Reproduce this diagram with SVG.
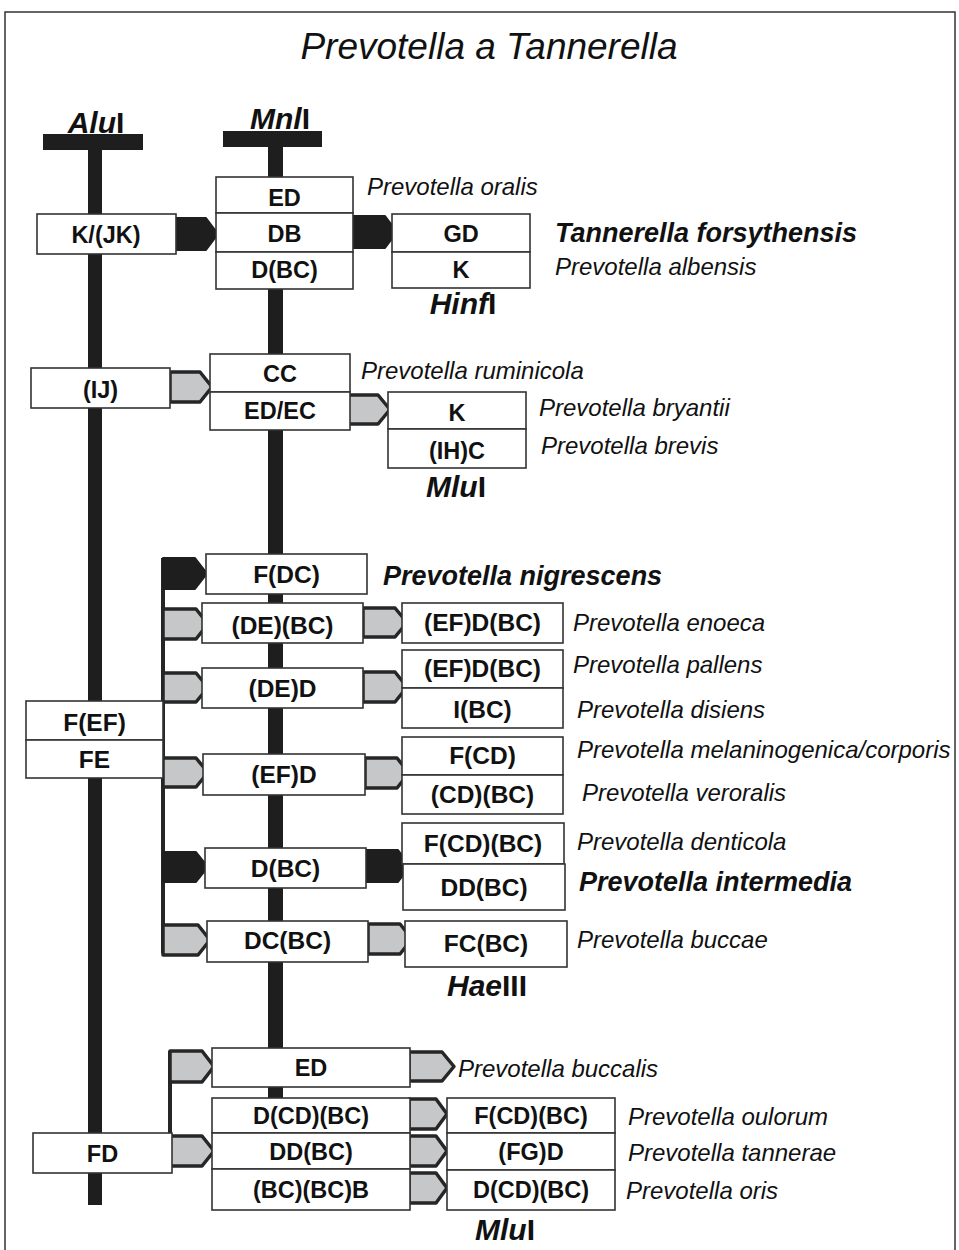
<svg xmlns="http://www.w3.org/2000/svg" width="959" height="1250" viewBox="0 0 959 1250">
<style>
.bx{fill:#fff;stroke:#333;stroke-width:1.6}
.bt{font-family:"Liberation Sans",Arial,sans-serif;font-weight:bold;font-size:23.5px;text-anchor:middle;fill:#111}
#group-hae .bt{font-size:24.5px}
.sp{font-family:"Liberation Sans",Arial,sans-serif;font-style:italic;font-size:24px;fill:#111}
.spb{font-family:"Liberation Sans",Arial,sans-serif;font-style:italic;font-weight:bold;font-size:27px;fill:#111}
.en{font-family:"Liberation Sans",Arial,sans-serif;font-weight:bold;font-size:30px;text-anchor:middle;fill:#111}
.en tspan.i{font-style:italic}
.ga{fill:#c6c7c9;stroke:#262626;stroke-width:3.5;stroke-linejoin:round}
.ba{fill:#1e1e1e;stroke:#1e1e1e;stroke-width:2;stroke-linejoin:round}
.bar{fill:#1e1e1e}
.ln{fill:none;stroke:#262626;stroke-width:4}
</style>
<rect x="5" y="12" width="950" height="1260" fill="none" stroke="#333" stroke-width="1.5"/>
<text x="489" y="59" font-family="'Liberation Sans',Arial,sans-serif" font-style="italic" font-size="37" text-anchor="middle" fill="#111">Prevotella a Tannerella</text>

<g id="axes">
<rect class="bar" x="43" y="134" width="100" height="16"/>
<rect class="bar" x="88" y="150" width="14" height="1055"/>
<rect class="bar" x="223" y="131" width="99" height="16"/>
<rect class="bar" x="268" y="147" width="15" height="953"/>
<text class="en" x="96" y="133"><tspan class="i">Alu</tspan>I</text>
<text class="en" x="280" y="129"><tspan class="i">Mnl</tspan>I</text>
<text class="en" x="463" y="314"><tspan class="i">Hinf</tspan>I</text>
<text class="en" x="456" y="497"><tspan class="i">Mlu</tspan>I</text>
<text class="en" x="487" y="996"><tspan class="i">Hae</tspan>III</text>
<text class="en" x="505" y="1240"><tspan class="i">Mlu</tspan>I</text>
</g>

<g id="connectors">
<path class="ba" d="M176 218H206L218 234L206 250H176Z"/>
<path class="ba" d="M353 216H385L397 232L385 248H353Z"/>
<path class="ga" d="M170 372H200L212 387L200 402H170Z"/>
<path class="ga" d="M348 395H378L390 409.5L378 424H348Z"/>
<path class="ln" d="M163 558V953"/>
<path class="ba" d="M163 558H195L207 573.5L195 589H163Z"/>
<path class="ga" d="M163 609H196L208 624L196 639H163Z"/>
<path class="ga" d="M363 608H395L407 622.5L395 637H363Z"/>
<path class="ga" d="M163 673H196L208 687.5L196 702H163Z"/>
<path class="ga" d="M363 672H395L407 687L395 702H363Z"/>
<path class="ga" d="M163 758H196L208 772.5L196 787H163Z"/>
<path class="ga" d="M365 758H397L409 773L397 788H365Z"/>
<path class="ba" d="M163 852H196L208 867L196 882H163Z"/>
<path class="ba" d="M363 850H398L410 866L398 882H363Z"/>
<path class="ga" d="M163 925H198L210 940L198 955H163Z"/>
<path class="ga" d="M368 924H400L412 939L400 954H368Z"/>
<path class="ln" d="M170 1051V1165"/>
<path class="ga" d="M170 1051H202L214 1066.5L202 1082H170Z"/>
<path class="ga" d="M409 1052H442L454 1066.5L442 1081H409Z"/>
<path class="ga" d="M170 1136H202L214 1151L202 1166H170Z"/>
<path class="ga" d="M409 1099H436L447 1114L436 1129H409Z"/>
<path class="ga" d="M409 1136H436L447 1151L436 1166H409Z"/>
<path class="ga" d="M409 1173H436L447 1188L436 1203H409Z"/>
</g>

<g id="group-hinf">
<g id="n-ED1"><rect class="bx" x="216" y="177" width="137" height="36"/><text class="bt" x="284.5" y="206">ED</text></g>
<g id="n-DB"><rect class="bx" x="216" y="213" width="137" height="39"/><text class="bt" x="284.5" y="242">DB</text></g>
<g id="n-DBC1"><rect class="bx" x="216" y="252" width="137" height="37"/><text class="bt" x="284.5" y="278">D(BC)</text></g>
<g id="n-KJK"><rect class="bx" x="37" y="214" width="139" height="40"/><text class="bt" x="106" y="243">K/(JK)</text></g>
<g id="n-GD"><rect class="bx" x="392" y="214" width="138" height="38"/><text class="bt" x="461" y="242">GD</text></g>
<g id="n-K1"><rect class="bx" x="392" y="252" width="138" height="36"/><text class="bt" x="461" y="278">K</text></g>
<text class="sp" x="367" y="195">Prevotella oralis</text>
<text class="spb" x="555" y="242">Tannerella forsythensis</text>
<text class="sp" x="555" y="275">Prevotella albensis</text>
</g>

<g id="group-mlu1">
<g id="n-IJ"><rect class="bx" x="31" y="368" width="139" height="40"/><text class="bt" x="100.5" y="398">(IJ)</text></g>
<g id="n-CC"><rect class="bx" x="210" y="354" width="140" height="38"/><text class="bt" x="280" y="382">CC</text></g>
<g id="n-EDEC"><rect class="bx" x="210" y="392" width="140" height="38"/><text class="bt" x="280" y="419">ED/EC</text></g>
<g id="n-K2"><rect class="bx" x="388" y="392" width="138" height="37"/><text class="bt" x="457" y="421">K</text></g>
<g id="n-IHC"><rect class="bx" x="388" y="429" width="138" height="39"/><text class="bt" x="457" y="459">(IH)C</text></g>
<text class="sp" x="361" y="379">Prevotella ruminicola</text>
<text class="sp" x="539" y="416">Prevotella bryantii</text>
<text class="sp" x="541" y="454">Prevotella brevis</text>
</g>

<g id="group-hae">
<g id="n-FEF"><rect class="bx" x="26" y="701" width="137" height="39"/><text class="bt" x="94.5" y="731">F(EF)</text></g>
<g id="n-FE"><rect class="bx" x="26" y="740" width="137" height="38"/><text class="bt" x="94.5" y="768">FE</text></g>
<g id="n-FDC"><rect class="bx" x="206" y="554" width="161" height="40"/><text class="bt" x="286.5" y="583">F(DC)</text></g>
<g id="n-DEBC"><rect class="bx" x="202" y="603" width="161" height="40"/><text class="bt" x="282.5" y="634">(DE)(BC)</text></g>
<g id="n-DED"><rect class="bx" x="202" y="668" width="161" height="40"/><text class="bt" x="282.5" y="697">(DE)D</text></g>
<g id="n-EFD"><rect class="bx" x="203" y="754" width="162" height="41"/><text class="bt" x="284" y="783">(EF)D</text></g>
<g id="n-DBC2"><rect class="bx" x="205" y="848" width="161" height="40"/><text class="bt" x="285.5" y="877">D(BC)</text></g>
<g id="n-DCBC"><rect class="bx" x="207" y="921" width="161" height="41"/><text class="bt" x="287.5" y="949">DC(BC)</text></g>
<g id="n-EFDBC1"><rect class="bx" x="402" y="603" width="161" height="40"/><text class="bt" x="482.5" y="631">(EF)D(BC)</text></g>
<g id="n-EFDBC2"><rect class="bx" x="402" y="650" width="161" height="38"/><text class="bt" x="482.5" y="677">(EF)D(BC)</text></g>
<g id="n-IBC"><rect class="bx" x="402" y="688" width="161" height="40"/><text class="bt" x="482.5" y="718">I(BC)</text></g>
<g id="n-FCD"><rect class="bx" x="402" y="737" width="161" height="38"/><text class="bt" x="482.5" y="764">F(CD)</text></g>
<g id="n-CDBC"><rect class="bx" x="402" y="775" width="161" height="39"/><text class="bt" x="482.5" y="803">(CD)(BC)</text></g>
<g id="n-FCDBC1"><rect class="bx" x="402" y="823" width="162" height="41"/><text class="bt" x="483" y="852">F(CD)(BC)</text></g>
<g id="n-DDBC1"><rect class="bx" x="403" y="864" width="162" height="46"/><text class="bt" x="484" y="896">DD(BC)</text></g>
<g id="n-FCBC"><rect class="bx" x="405" y="921" width="162" height="46"/><text class="bt" x="486" y="952">FC(BC)</text></g>
<text class="spb" x="383" y="585">Prevotella nigrescens</text>
<text class="sp" x="573" y="631">Prevotella enoeca</text>
<text class="sp" x="573" y="673">Prevotella pallens</text>
<text class="sp" x="577" y="718">Prevotella disiens</text>
<text class="sp" x="577" y="758">Prevotella melaninogenica/corporis</text>
<text class="sp" x="582" y="801">Prevotella veroralis</text>
<text class="sp" x="577" y="850">Prevotella denticola</text>
<text class="spb" x="579" y="891">Prevotella intermedia</text>
<text class="sp" x="577" y="948">Prevotella buccae</text>
</g>

<g id="group-mlu2">
<g id="n-FD"><rect class="bx" x="33" y="1133" width="139" height="40"/><text class="bt" x="102.5" y="1162">FD</text></g>
<g id="n-ED2"><rect class="bx" x="212" y="1048" width="198" height="39"/><text class="bt" x="311" y="1076">ED</text></g>
<g id="n-DCDBC"><rect class="bx" x="212" y="1098" width="198" height="35"/><text class="bt" x="311" y="1124">D(CD)(BC)</text></g>
<g id="n-DDBC2"><rect class="bx" x="212" y="1133" width="198" height="36"/><text class="bt" x="311" y="1160">DD(BC)</text></g>
<g id="n-BCBCB"><rect class="bx" x="212" y="1169" width="198" height="41"/><text class="bt" x="311" y="1198">(BC)(BC)B</text></g>
<g id="n-FCDBC2"><rect class="bx" x="447" y="1098" width="168" height="35"/><text class="bt" x="531" y="1124">F(CD)(BC)</text></g>
<g id="n-FGD"><rect class="bx" x="447" y="1133" width="168" height="37"/><text class="bt" x="531" y="1160">(FG)D</text></g>
<g id="n-DCDBC2"><rect class="bx" x="447" y="1170" width="168" height="40"/><text class="bt" x="531" y="1198">D(CD)(BC)</text></g>
<text class="sp" x="458" y="1077">Prevotella buccalis</text>
<text class="sp" x="628" y="1125">Prevotella oulorum</text>
<text class="sp" x="628" y="1161">Prevotella tannerae</text>
<text class="sp" x="626" y="1199">Prevotella oris</text>
</g>
</svg>
